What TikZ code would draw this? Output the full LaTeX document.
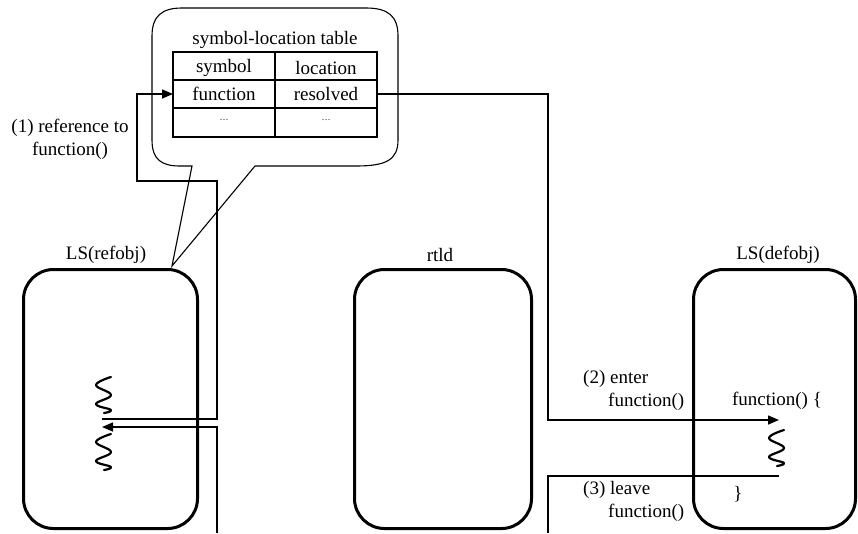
\documentclass[tikz,border=0pt]{standalone}
\usepackage{fontspec}
\setmainfont{Liberation Serif}
\usetikzlibrary{arrows.meta}

\tikzset{
  lbl/.style={font=\fontsize{19}{23}\selectfont, inner sep=0pt},
  procbox/.style={draw, line width=3pt, rounded corners=30pt},
  wire/.style={line width=1.5pt},
  thin/.style={line width=1.1pt},
  flow/.style={wire, -{Triangle[length=11pt,width=9pt]}},
  wavy/.style={line width=2.2pt, line cap=round, line join=round},
}

% a short vertical wavy stroke, top at (#1,#2)
\newcommand{\wiggle}[2]{%
  \draw[wavy] plot[smooth, tension=0.7] coordinates {
    (#1+8,#2) (#1-7,#2+8) (#1+8,#2+18) (#1-7,#2+27) (#1+8,#2+33) (#1+1,#2+36)};}

\begin{document}
\begin{tikzpicture}[x=1pt, y=-1pt]
  \useasboundingbox (0,0) rectangle (858,533);

  % --- process boxes -------------------------------------------------
  \node[procbox, minimum width=174pt, minimum height=259pt, anchor=north west]
    (ref) at (22,268) {};
  \node[procbox, minimum width=177pt, minimum height=259pt, anchor=north west]
    (rtld) at (353,268) {};
  \node[procbox, minimum width=162pt, minimum height=259pt, anchor=north west]
    (def) at (692,268) {};

  \node[lbl] (refname) at (106,255) {LS(refobj)};
  \node[lbl] (rtldname) at (440,255) {rtld};
  \node[lbl] (defname) at (778,255) {LS(defobj)};

  % --- callout holding the symbol table --------------------------------
  \coordinate (tip) at (172,266);
  \draw[thin] (192,166) -- (180,166)
      .. controls (162,166) and (152,160) .. (152,140)
      -- (152,36) .. controls (152,16) and (162,8) .. (182,8)
      -- (366,8) .. controls (388,8) and (398,16) .. (398,36)
      -- (398,140) .. controls (398,160) and (386,166) .. (356,166)
      -- (255,166) -- (tip) -- cycle;

  \node[lbl] (ttitle) at (275,40) {symbol-location table};

  % table grid
  \coordinate (tl) at (173,52);
  \coordinate (br) at (377,137);
  \draw[thin] (tl) rectangle (br);
  \draw[thin] (173,80) -- (377,80);
  \draw[thin] (173,108) -- (377,108);
  \draw[thin] (275,52) -- (275,137);

  \node[lbl] (hsym) at (224,68) {symbol};
  \node[lbl] (hloc) at (326,68) {location};
  \node[lbl] (cfun) at (224,94) {function};
  \node[lbl] (cres) at (326,94) {resolved};
  \node[font=\fontsize{9}{10}\selectfont] (d1) at (224,120) {\dots};
  \node[font=\fontsize{9}{10}\selectfont] (d2) at (326,120) {\dots};

  \coordinate (funin) at (173,94);
  \coordinate (resout) at (377,94);

  % --- (1) reference to function() ----------------------------------
  \coordinate (callpt) at (102,419);
  \draw[flow] (callpt) -- (217,419) -- (217,181) -- (137,181)
    -- (137,94) -- (funin);
  \node[lbl, align=center] (l1) at (70,139)
    {(1) reference to\\function()};

  % --- (2) enter function() ------------------------------------------
  \coordinate (entry) at (779,420);
  \draw[flow] (resout) -- (548,94) -- (548,420) -- (entry);
  \node[lbl, align=left, anchor=north west] (l2) at (583,370)
    {(2) enter\\\hspace*{25pt}function()};

  % --- (3) leave function() and return -------------------------------
  \coordinate (exitpt) at (779,476);
  \coordinate (lowA) at (548,533);
  \draw[wire] (exitpt) -- (548,476) -- (lowA);
  \node[lbl, align=left, anchor=north west] (l3) at (583,481)
    {(3) leave\\\hspace*{25pt}function()};

  \coordinate (lowB) at (217,533);
  \coordinate (retpt) at (102,427);
  \draw[flow] (lowB) -- (217,427) -- (retpt);

  % --- code inside the boxes -----------------------------------------
  \node[lbl] (fopen) at (777,401) {function() \{};
  \node[lbl] (fclose) at (738,494) {\}};

  \wiggle{103}{377}
  \wiggle{103}{434}
  \wiggle{776}{430}
\end{tikzpicture}
\end{document}
